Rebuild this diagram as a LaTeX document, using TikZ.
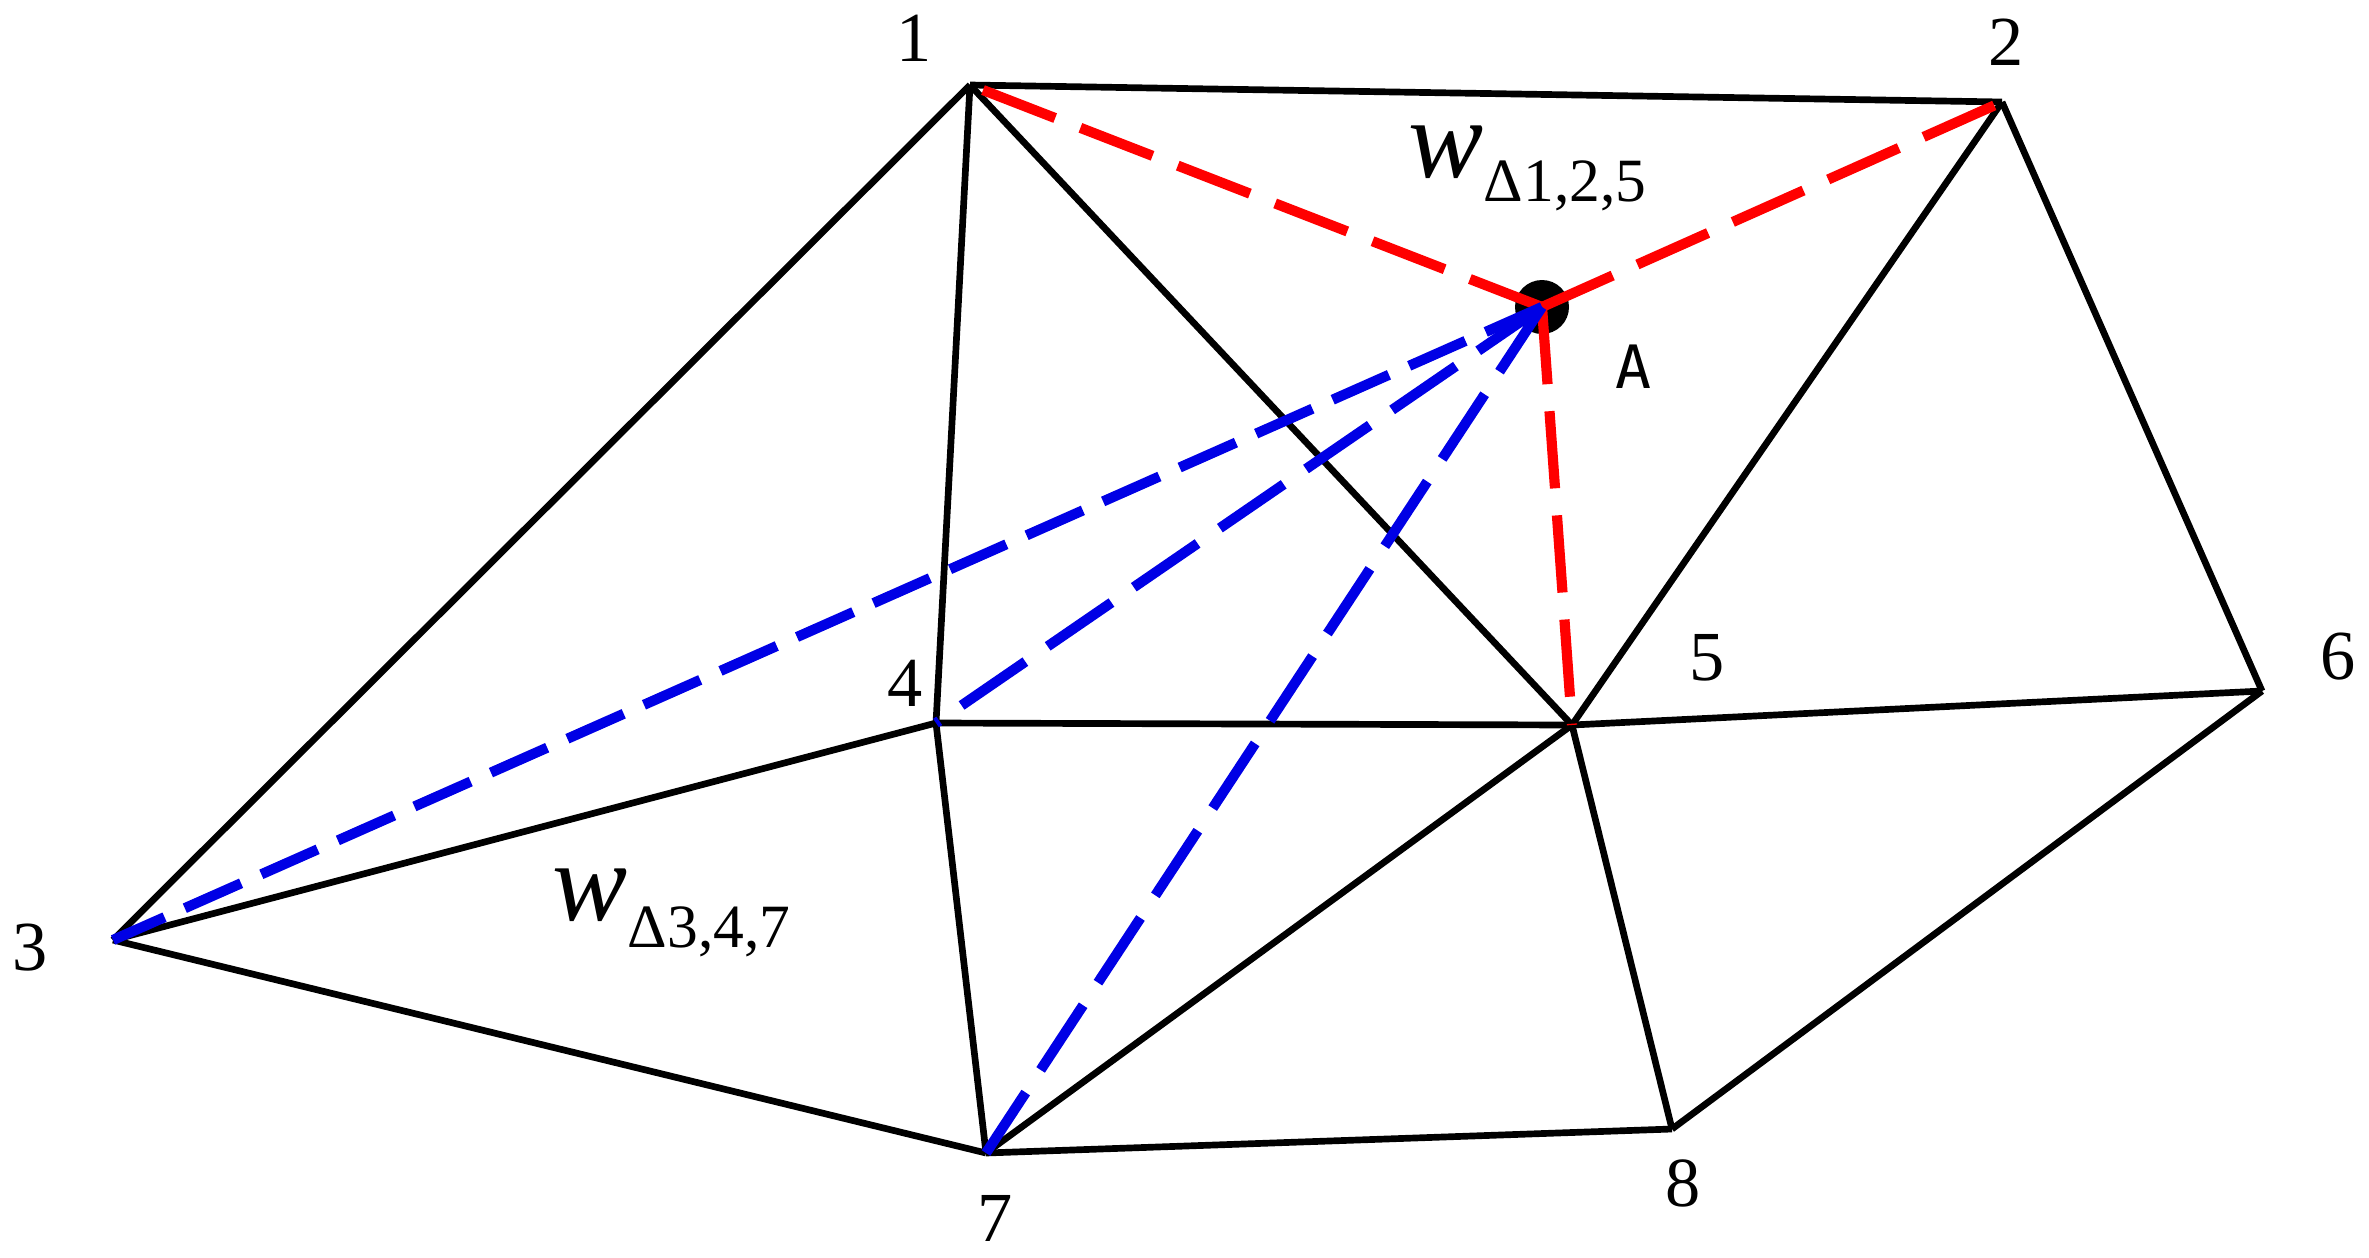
\documentclass[tikz,border=0pt]{standalone}
\usepackage{fontspec}
\setmainfont{Liberation Serif}
\newfontfamily\labAfont{DejaVu Sans Mono}
\begin{document}
\begin{tikzpicture}[x=0.01cm,y=-0.01cm,
  edge/.style={black,line width=1.9pt},
  rdash/.style={red,line width=2.9pt,dash pattern=on 22pt off 7.7pt},
  bdash/.style={blue!90!black,line width=2.9pt,dash pattern=on 22pt off 7.7pt},
  lbl/.style={inner sep=0pt,font=\fontsize{20}{20}\selectfont},
  wlbl/.style={inner sep=0pt,anchor=base west,font=\fontsize{32}{32}\selectfont}]
\useasboundingbox (0,0) rectangle (2369,1257);
\coordinate (p1) at (970,85);
\coordinate (p2) at (2002,102);
\coordinate (p3) at (113,940);
\coordinate (p4) at (936,723);
\coordinate (p5) at (1572,725);
\coordinate (p6) at (2262,691);
\coordinate (p7) at (986,1153);
\coordinate (p8) at (1672,1129);
\coordinate (pA) at (1542,307);
% mesh edges
\foreach \a/\b in {p1/p2,p1/p3,p1/p4,p1/p5,p2/p5,p2/p6,p3/p4,p3/p7,p4/p5,p4/p7,p5/p6,p5/p7,p5/p8,p6/p8,p7/p8}
  \draw[edge] (\a) -- (\b);
% point A
\fill[black] (pA) circle[radius=27];
% dashed links
\draw[rdash] (pA) -- (p1);
\draw[rdash] (pA) -- (p2);
\draw[rdash] (pA) -- (p5);
\draw[bdash,dash pattern=on 17.5pt off 6.3pt] (pA) -- (p3);
\draw[bdash] (pA) -- (p4);
\draw[bdash] (pA) -- (p7);
% labels
\node[lbl] (l1) at (914,38) {1};
\node[lbl] (l2) at (2006,42) {2};
\node[lbl] (l3) at (30,948) {3};
\node[lbl] (l4) at (905,683) {4};
\node[lbl] (l5) at (1707,658) {5};
\node[lbl] (l6) at (2338,657) {6};
\node[lbl] (l7) at (995,1218) {7};
\node[lbl] (l8) at (1683,1183) {8};
\node[inner sep=0pt,font=\labAfont\fontsize{17}{17}\selectfont] (lA) at (1633,367) {A};
\node[wlbl] (w125) at (1408,177) {\textit{w}\raisebox{-7pt}{\fontsize{17.5}{17.5}\selectfont Δ1,2,5}};
\node[wlbl] (w347) at (552,920) {\textit{w}\raisebox{-7.7pt}{\fontsize{17.5}{17.5}\selectfont Δ3,4,7}};
\end{tikzpicture}
\end{document}
